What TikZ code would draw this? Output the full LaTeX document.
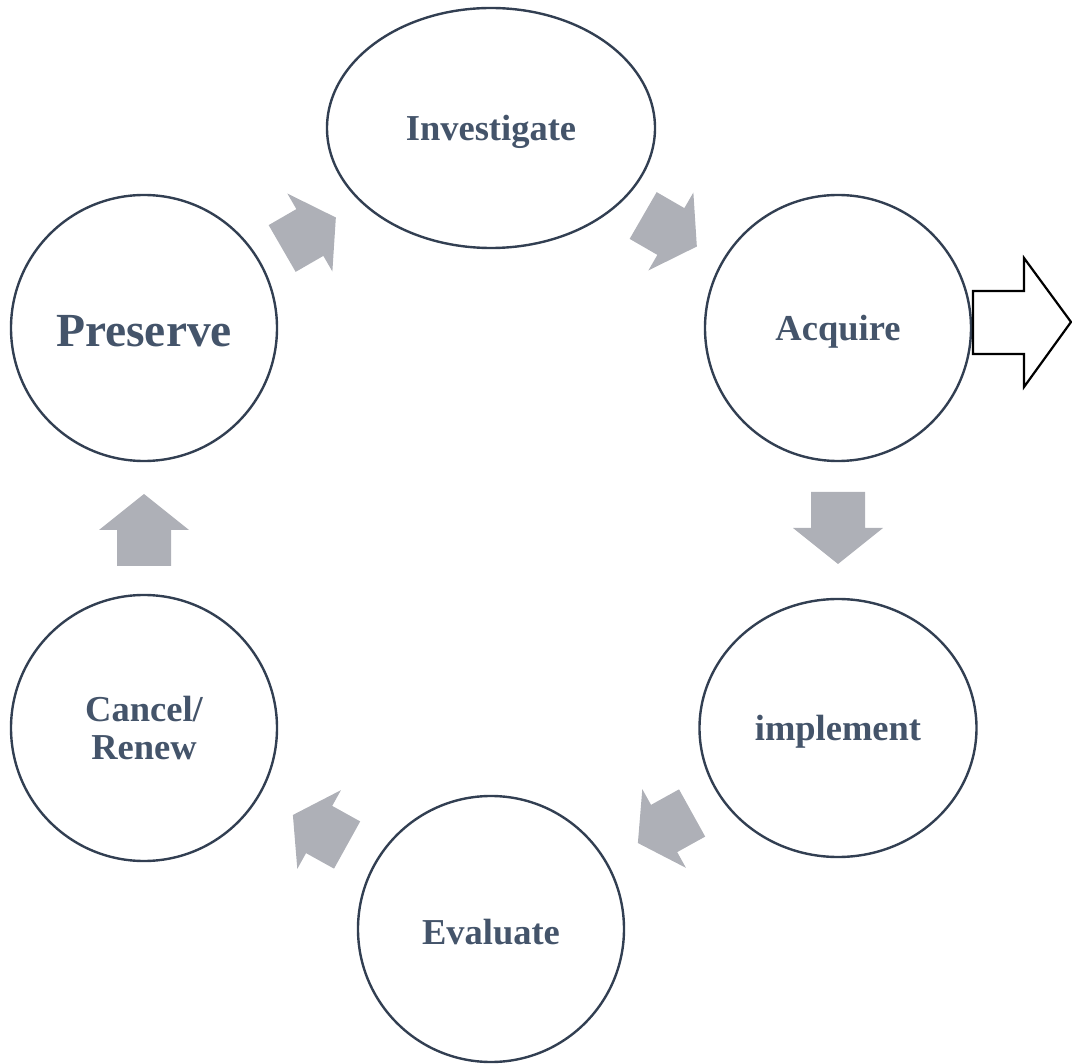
\documentclass[tikz,border=0pt]{standalone}
\usepackage{fontspec}
\setmainfont{Liberation Serif}
\usetikzlibrary{shapes.geometric}

\definecolor{labelblue}{HTML}{44546A}
\definecolor{ringline}{HTML}{323F52}
\definecolor{arrowgray}{RGB}{174,176,183}

% gray block arrow: #1 = centre, #2 = angle, #3 = total length, #4 = head length
\newcommand{\grayarrow}[4]{%
  \fill[arrowgray, shift={#1}, rotate=#2]
    (-#3/2,-27) -- (#3/2-#4,-27) -- (#3/2-#4,-45) -- (#3/2,0)
    -- (#3/2-#4,45) -- (#3/2-#4,27) -- (-#3/2,27) -- cycle;}
% one-line stage label, set slightly below the geometric centre
\newcommand{\stagelabel}[1]{\raisebox{-3.5pt}[\height][\depth]{#1}}

\begin{document}
\begin{tikzpicture}[x=1pt, y=-1pt,
  stage/.style={ellipse, draw=ringline, line width=2.4pt, inner sep=0pt,
    text=labelblue, font=\bfseries\fontsize{36.5}{38}\selectfont, align=center},
  roundstage/.style={stage, minimum width=266pt, minimum height=266pt}]
  \useasboundingbox (0,0) rectangle (1072,1064);

  % the six stages of the cycle
  \node[stage, minimum width=328pt, minimum height=240pt] (investigate) at (491,128) {\stagelabel{Investigate}};
  \node[roundstage] (acquire) at (838,328) {\stagelabel{Acquire}};
  \node[stage, minimum width=277pt, minimum height=258pt] (implement) at (838,728) {\stagelabel{implement}};
  \node[roundstage] (evaluate) at (491,929) {\stagelabel{Evaluate}};
  \node[roundstage] (cancel) at (144,728) {Cancel/\\Renew};
  \node[roundstage, font=\bfseries\fontsize{47.5}{50}\selectfont] (preserve) at (144,328) {\stagelabel{Preserve}};

  % block arrows between the stages
  \grayarrow{(309,233)}{30}{62}{30}
  \grayarrow{(670,231)}{-30}{62}{30}
  \grayarrow{(838,528)}{-90}{72}{36}
  \grayarrow{(665,828)}{-151}{62}{30}
  \grayarrow{(320,830)}{151}{62}{30}
  \grayarrow{(144,530)}{90}{72}{36}

  % outlined arrow leading out of Acquire
  \draw[black, line width=2.2pt, fill=white, line join=miter]
    (973,291) -- (1024,291) -- (1024,258) -- (1071,322)
    -- (1024,387) -- (1024,354) -- (973,354) -- cycle;
\end{tikzpicture}
\end{document}
